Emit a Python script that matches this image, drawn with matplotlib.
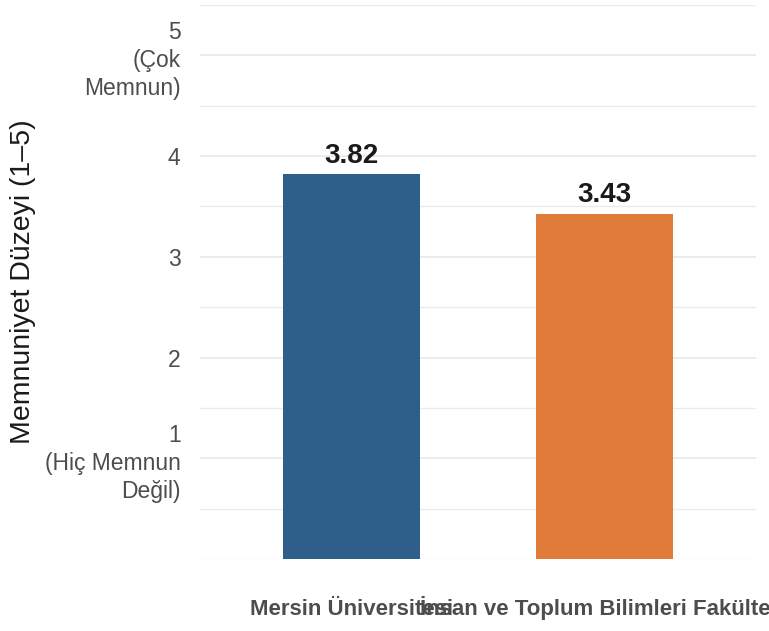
import matplotlib
matplotlib.use("Agg")
import matplotlib.pyplot as plt

plt.rcParams['font.family'] = ['Liberation Sans', 'DejaVu Sans']

categories = ["Mersin Üniversitesi", "İnsan ve Toplum Bilimleri Fakültesi"]
values = [3.82, 3.43]
value_labels = ["3.82", "3.43"]
colors = ["#2D5F8A", "#E07B3A"]
ytick_vals = [1, 2, 3, 4, 5]
ytick_labels = ["1\n(Hiç Memnun\nDeğil)", "2", "3", "4", "5\n(Çok\nMemnun)"]
ylabel = "Memnuniyet Düzeyi (1–5)"

W, H = 769, 631
fig = plt.figure(figsize=(W / 100, H / 100), dpi=100)
left, right, top, bottom = 200, 756, 5, 559
ax = fig.add_axes([left / W, 1 - bottom / H, (right - left) / W, (bottom - top) / H])

x = list(range(len(categories)))
ax.bar(x, values, width=0.54, color=colors, zorder=3)
for xi, v, lab in zip(x, values, value_labels):
    ax.annotate(lab, (xi, v), xytext=(0, 4), textcoords="offset points",
                ha="center", va="bottom", fontsize=20, fontweight="bold",
                color="#1a1a1a", zorder=4)

ax.set_xlim(-0.6, 1.6)
ax.set_ylim(0, 5.5)
ax.set_xticks(x)
ax.set_xticklabels(categories, fontsize=16, fontweight="bold", color="#4D4D4D")
for t in ax.get_xticklabels():
    t.set_va("baseline")
ax.set_yticks(ytick_vals)
ax.set_yticklabels(ytick_labels, fontsize=16.5, color="#4D4D4D")
for t in ax.get_yticklabels():
    t.set_linespacing(1.28)
ax.set_yticks([0, 0.5, 1.5, 2.5, 3.5, 4.5, 5.5], minor=True)
ax.tick_params(axis="both", length=0)
ax.tick_params(axis="y", which="minor", length=0)
ax.tick_params(axis="y", pad=14)
ax.tick_params(axis="x", pad=40)

ax.grid(axis="y", which="major", color="#EBEBEB", linewidth=1.4, zorder=0)
ax.grid(axis="y", which="minor", color="#EBEBEB", linewidth=1.0, zorder=0)
ax.grid(axis="x", visible=False)
for s in ax.spines.values():
    s.set_visible(False)

fig.text(23 / W, 1 - 282 / H, ylabel, rotation=90, ha="center", va="center",
         fontsize=20.5, color="#1a1a1a")

fig.savefig("out.png", dpi=100)
